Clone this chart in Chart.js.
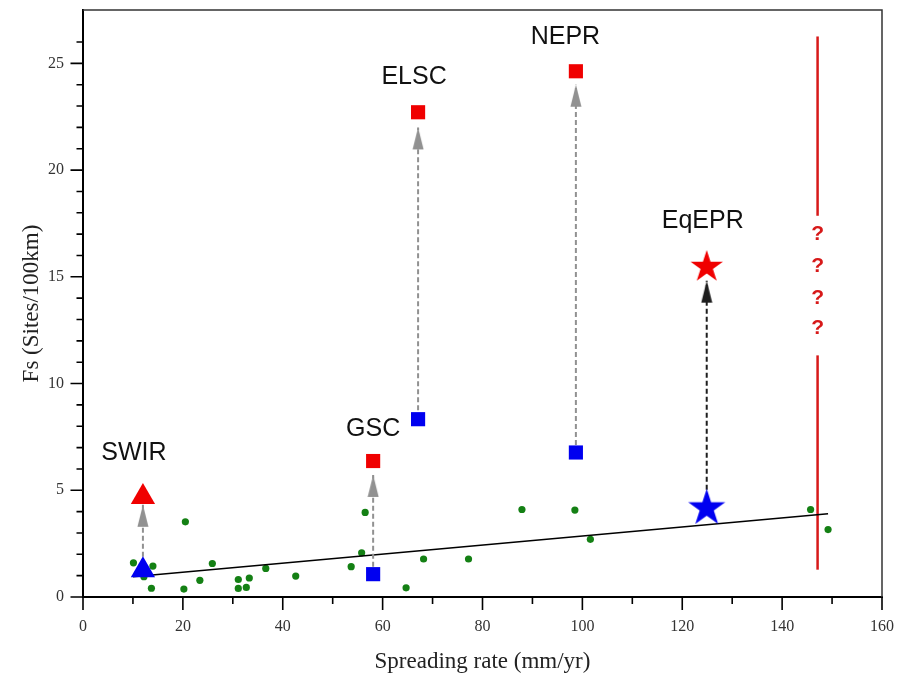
<!DOCTYPE html>
<html>
<head>
<meta charset="utf-8">
<script src="https://cdn.jsdelivr.net/npm/chart.js@4.4.0/dist/chart.umd.min.js"></script>
<style>
  html, body { margin: 0; padding: 0; background: #fff; overflow: hidden; }
  #wrap { width: 901px; height: 677px; position: relative; }
  #grafico { display: block; }
</style>
</head>
<body>
<div id="wrap"><canvas id="grafico"></canvas></div>
<script>
// sites: low value (blue) -> high value (red)
var siteNames = ['SWIR', 'GSC', 'ELSC', 'NEPR', 'EqEPR'];
var siteX = [12.0, 58.1, 67.1, 98.7, 124.9];
var lowFs = [1.25, 1.07, 8.33, 6.77, 4.16];
var highFs = [4.68, 6.37, 22.71, 24.63, 15.46];
var arrowBase = [1.89, 1.42, 8.75, 7.12, 5.02];
var arrowTip = [4.32, 5.72, 22.0, 24.0, 14.82];
var labelX = [10.2, 58.1, 66.3, 96.6, 124.1];
var labelY = [6.75, 7.87, 24.35, 26.23, 17.59];

// green points
var rateX = [10.1, 12.2, 14.0, 13.7, 20.5, 20.2, 23.4, 25.9, 31.1, 31.1, 32.7, 33.3, 36.6, 42.6,
             53.7, 55.8, 56.5, 64.7, 68.2, 77.2, 87.9, 98.5, 101.6, 145.7, 149.2];
var fsY = [1.6, 0.95, 1.45, 0.41, 3.52, 0.37, 0.78, 1.57, 0.82, 0.40, 0.45, 0.89, 1.34, 0.98,
           1.42, 2.07, 3.96, 0.43, 1.78, 1.78, 4.10, 4.07, 2.70, 4.10, 3.16];

// fit line
var trendX = [10, 149.2];
var trendY = [0.95, 3.9];

// red limit line with question marks
var limitX = 147.1;
var limitLow = [1.28, 11.32];
var limitHigh = [17.86, 26.26];
var questionY = [17.0, 15.5, 14.0, 12.58];

var azul = 'rgb(0, 0, 240)';
var vermelho = 'rgb(240, 0, 0)';
var verde = 'rgb(20, 128, 20)';
var cinza = 'rgb(145, 145, 145)';

function estrela(raio, cor) {
    var c = document.createElement('canvas');
    var s = Math.ceil(raio * 2 + 2);
    c.width = s; c.height = s;
    var g = c.getContext('2d');
    g.fillStyle = cor;
    g.beginPath();
    for (var i = 0; i < 10; i++) {
        var r = i % 2 == 0 ? raio : raio * 0.382;
        var a = -Math.PI / 2 + i * Math.PI / 5;
        var px = s / 2 + r * Math.cos(a), py = s / 2 + r * Math.sin(a);
        if (i == 0) g.moveTo(px, py); else g.lineTo(px, py);
    }
    g.closePath();
    g.fill();
    return c;
}

function ponta(cor) {
    // arrow head, tip at the centre of the canvas
    var c = document.createElement('canvas');
    c.width = 12; c.height = 46;
    var g = c.getContext('2d');
    g.fillStyle = cor;
    g.beginPath();
    g.moveTo(6, 23);
    g.lineTo(0.5, 45);
    g.lineTo(11.5, 45);
    g.closePath();
    g.fill();
    return c;
}

var estiloSitio = ['triangle', 'rect', 'rect', 'rect', null];
var raioSitio = [14, 10, 10, 10, 5];

var datasets = [];
for (var i = 0; i < siteNames.length; i++) {
    var isStar = i == 4;
    datasets.push({
        label: siteNames[i] + ' high',
        data: [{x: siteX[i], y: highFs[i]}],
        pointStyle: isStar ? estrela(17, vermelho) : estiloSitio[i],
        pointRadius: raioSitio[i],
        backgroundColor: vermelho,
        borderColor: vermelho,
        borderWidth: 0,
        showLine: false
    });
    datasets.push({
        label: siteNames[i] + ' low',
        data: [{x: siteX[i], y: lowFs[i]}],
        pointStyle: isStar ? estrela(19.5, azul) : estiloSitio[i],
        pointRadius: raioSitio[i],
        backgroundColor: azul,
        borderColor: azul,
        borderWidth: 0,
        showLine: false
    });
}
for (var i = 0; i < siteNames.length; i++) {
    var corSeta = i == 4 ? 'rgb(30, 30, 30)' : cinza;
    datasets.push({
        label: siteNames[i] + ' arrow',
        data: [{x: siteX[i], y: arrowBase[i]}, {x: siteX[i], y: arrowTip[i]}],
        showLine: true,
        borderColor: corSeta,
        borderWidth: 2,
        borderDash: [5, 3],
        pointStyle: ponta(corSeta),
        pointRadius: [0, 5]
    });
}
datasets.push({
    label: 'trend',
    data: trendX.map(function (x, k) { return {x: x, y: trendY[k]}; }),
    showLine: true,
    borderColor: '#000',
    borderWidth: 1.6,
    pointRadius: 0
});
datasets.push({
    label: 'sites',
    data: rateX.map(function (x, k) { return {x: x, y: fsY[k]}; }),
    pointStyle: 'circle',
    pointRadius: 3.6,
    backgroundColor: verde,
    borderWidth: 0,
    showLine: false
});
[limitLow, limitHigh].forEach(function (seg) {
    datasets.push({
        label: 'limit',
        data: [{x: limitX, y: seg[0]}, {x: limitX, y: seg[1]}],
        showLine: true,
        borderColor: 'rgb(215, 25, 25)',
        borderWidth: 2.5,
        pointRadius: 0
    });
});

var marcas = {
    id: 'marcas',
    afterDraw: function (chart) {
        var ctx = chart.ctx, a = chart.chartArea;
        var sx = chart.scales.x, sy = chart.scales.y;
        ctx.save();
        // frame top and right
        ctx.strokeStyle = '#333';
        ctx.lineWidth = 1.5;
        ctx.beginPath();
        ctx.moveTo(a.left, a.top);
        ctx.lineTo(a.right, a.top);
        ctx.lineTo(a.right, a.bottom);
        ctx.stroke();
        // ticks
        ctx.strokeStyle = '#000';
        ctx.lineWidth = 1.6;
        ctx.beginPath();
        sx.ticks.forEach(function (t) {
            if (t.value % 10 != 0) return;
            var px = sx.getPixelForValue(t.value);
            var len = t.value % 20 == 0 ? 13 : 7;
            ctx.moveTo(px, a.bottom);
            ctx.lineTo(px, a.bottom + len);
        });
        sy.ticks.forEach(function (t) {
            if (t.value % 1 != 0) return;
            var py = sy.getPixelForValue(t.value);
            var len = t.value % 5 == 0 ? 12.5 : 6.5;
            ctx.moveTo(a.left, py);
            ctx.lineTo(a.left - len, py);
        });
        ctx.stroke();
        // site names
        ctx.fillStyle = '#111';
        ctx.font = '25px "Liberation Sans", Arial, sans-serif';
        ctx.textAlign = 'center';
        ctx.textBaseline = 'middle';
        for (var i = 0; i < siteNames.length; i++) {
            ctx.fillText(siteNames[i], sx.getPixelForValue(labelX[i]), sy.getPixelForValue(labelY[i]));
        }
        // question marks
        ctx.fillStyle = 'rgb(215, 25, 25)';
        ctx.font = 'bold 21px "Liberation Sans", Arial, sans-serif';
        questionY.forEach(function (q) {
            ctx.fillText('?', sx.getPixelForValue(limitX), sy.getPixelForValue(q));
        });
        ctx.restore();
    }
};

function semFolga(s) {
    s.paddingTop = 0; s.paddingBottom = 0; s.paddingLeft = 0; s.paddingRight = 0;
}

var ctx = document.getElementById('grafico').getContext('2d');
var chart = new Chart(ctx, {
    type: 'scatter',
    data: { datasets: datasets },
    options: {
        responsive: true,
        maintainAspectRatio: false,
        animation: false,
        layout: { autoPadding: false, padding: { top: 10, right: 19, left: 0, bottom: 0 } },
        plugins: { legend: { display: false }, tooltip: { enabled: false } },
        scales: {
            x: {
                type: 'linear',
                min: 0, max: 160,
                afterFit: function (s) { s.height = 80; semFolga(s); },
                grid: { display: false, drawTicks: false },
                border: { display: true, color: '#000', width: 2 },
                ticks: {
                    stepSize: 10,
                    autoSkip: false,
                    maxRotation: 0,
                    padding: 20,
                    color: '#333',
                    font: { family: '"Liberation Serif", "Times New Roman", serif', size: 16 },
                    callback: function (v) { return v % 20 == 0 ? v : ''; }
                },
                title: {
                    display: true,
                    text: 'Spreading rate (mm/yr)',
                    color: '#222',
                    padding: { top: 0, bottom: 1 },
                    font: { family: '"Liberation Serif", "Times New Roman", serif', size: 23 }
                }
            },
            y: {
                type: 'linear',
                min: 0, max: 27.5,
                afterFit: function (s) { s.width = 83; semFolga(s); },
                grid: { display: false, drawTicks: false },
                border: { display: true, color: '#000', width: 2 },
                ticks: {
                    stepSize: 1,
                    autoSkip: false,
                    padding: 19,
                    color: '#333',
                    font: { family: '"Liberation Serif", "Times New Roman", serif', size: 16 },
                    callback: function (v) { return v % 5 == 0 ? v : ''; }
                },
                title: {
                    display: true,
                    text: 'Fs (Sites/100km)',
                    color: '#222',
                    padding: { top: 18, bottom: 0 },
                    font: { family: '"Liberation Serif", "Times New Roman", serif', size: 23 }
                }
            }
        }
    },
    plugins: [marcas]
});
</script>
</body>
</html>
